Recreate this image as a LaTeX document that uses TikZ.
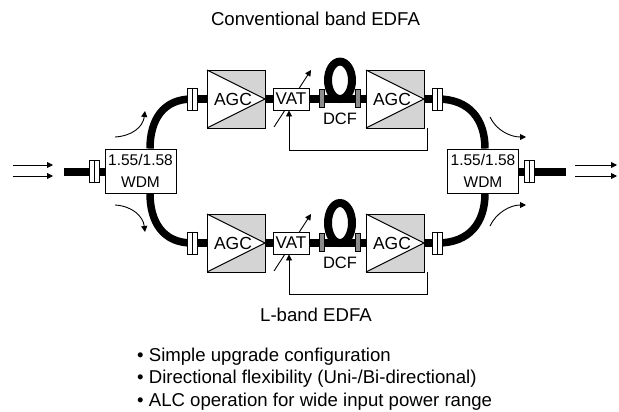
\documentclass[tikz,border=0pt]{standalone}
\usepackage{fontspec}
\setmainfont{Liberation Sans}
\usetikzlibrary{arrows.meta,backgrounds}
\tikzset{
 x=1pt,y=-1pt,
 fiber/.style={line width=7.5pt,black},
 box/.style={draw=black,line width=0.9pt,fill=white,inner sep=0pt,minimum width=#1},
 wdm/.style={box=71pt,minimum height=44pt,align=center,font=\fontsize{15.5}{22}\selectfont},
 vat/.style={box=36pt,minimum height=22pt,font=\fontsize{17}{17}\selectfont},
 conn/.style={draw=black,line width=0.8pt,fill=white,inner sep=0pt,minimum width=10pt,minimum height=22pt},
 dconn/.style={draw=black,line width=0.8pt,fill=black!45,inner sep=0pt,minimum width=5pt,minimum height=18pt},
 amp/.style={fill=black!17,inner sep=0pt,outer sep=0pt,minimum width=58pt,minimum height=58pt},
 thinln/.style={line width=0.9pt,draw=black},
 arr/.style={thinln,-{Triangle[length=6pt,width=6pt]}},
 txt/.style={inner sep=0pt,font=\fontsize{18.6}{20}\selectfont},
 lbl/.style={inner sep=0pt,font=\fontsize{17.5}{17}\selectfont},
 dcflbl/.style={inner sep=0pt,font=\fontsize{16.5}{17}\selectfont},
}
\newcommand{\ampbody}[2]{%
 \node[amp] (#1) at (#2) {};
 \path[fill=white] (#1.north west) -- (#1.east) -- (#1.south west) -- cycle;
 \path[thinln] (#1.north west) -- (#1.east) -- (#1.south west);
 \path[thinln] (#1.north west) rectangle (#1.south east);
 \node[lbl] (#1t) at ([xshift=-3pt]#1.center) {AGC};
}
\newcommand{\connbody}[2]{%
 \node[conn] (#1) at (#2) {};
 \draw[line width=0.8pt] (#1.north) -- (#1.south);
}
\newcommand{\dconnbody}[2]{%
 \node[dconn] (#1) at (#2) {};
}
\begin{document}
\begin{tikzpicture}
\useasboundingbox (0,0) rectangle (619,412);
\coordinate (inend) at (64,172);
\coordinate (outend) at (566,172);
\node[wdm] (wl) at (140.5,171) {1.55/1.58\\WDM};
\node[wdm] (wr) at (483,171) {1.55/1.58\\WDM};
\connbody{cin}{94.5,171}
\connbody{cout}{529.5,171}
\foreach \n/\y/\ry in {u/99/18.7,l/243/20}{
  \begin{scope}[on background layer]
    \draw[line width=8pt] (340,\y-\ry) ellipse [x radius=12, y radius=\ry];
  \end{scope}
  \ampbody{a\n}{236,\y}
  \ampbody{b\n}{395,\y}
  \node[vat] (v\n) at (291,\y) {VAT};
  \connbody{c\n}{192,\y}
  \connbody{d\n}{437.5,\y}
  \dconnbody{e\n}{321.5,\y-1}
  \dconnbody{f\n}{358,\y-1}
  \node[dcflbl] (dcf\n) at (340,\y+19.5) {DCF};
  \begin{scope}[on background layer]
    \draw[fiber] (c\n.center) -- (a\n.west);
    \draw[fiber] (a\n.center) -- (v\n.center);
    \draw[fiber] (v\n.center) -- (b\n.center);
    \draw[fiber] (b\n.center) -- (d\n.center);
  \end{scope}
}
\begin{scope}[on background layer]
  \draw[fiber] (inend) -- (wl.center |- inend);
  \draw[fiber] (wr.center |- outend) -- (outend);
  \draw[line width=7.5pt] (wl.north -| 150,0) .. controls (150,120) and (163,99) .. (cu.center);
  \draw[line width=7.5pt] (wl.south -| 150,0) .. controls (150,222) and (163,243) .. (cl.center);
  \draw[line width=7.5pt] (wr.north -| 485,0) .. controls (485,120) and (470,99) .. (du.center);
  \draw[line width=7.5pt] (wr.south -| 485,0) .. controls (485,222) and (470,243) .. (dl.center);
  \coordinate (ual) at (274,127); \coordinate (uah) at (311,70);
  \coordinate (lal) at (274,271); \coordinate (lah) at (311,214);
  \draw[arr] (ual) -- (uah);
  \draw[arr] (lal) -- (lah);
\end{scope}
\coordinate (fu) at (289,150); \coordinate (fl) at (289,294);
\draw[arr] (bu.south -| 427,0) -- (427,150) -- (fu) -- (fu |- vu.south);
\draw[arr] (bl.south -| 427,0) -- (427,294) -- (fl) -- (fl |- vl.south);
\coordinate (ia1) at (13,165); \coordinate (ib1) at (53,165);
\coordinate (ia2) at (13,176); \coordinate (ib2) at (53,176);
\coordinate (oa1) at (575,165); \coordinate (ob1) at (617,165);
\coordinate (oa2) at (575,176); \coordinate (ob2) at (617,176);
\draw[arr] (ia1) -- (ib1);
\draw[arr] (ia2) -- (ib2);
\draw[arr] (oa1) -- (ob1);
\draw[arr] (oa2) -- (ob2);
\coordinate (k1a) at (115,137); \coordinate (k1b) at (145,111);
\coordinate (k2a) at (115,205); \coordinate (k2b) at (145,232);
\coordinate (k3a) at (490,117); \coordinate (k3b) at (526,137);
\coordinate (k4a) at (490,226); \coordinate (k4b) at (526,205);
\draw[arr] (k1a) .. controls (132,136) and (143,127) .. (k1b);
\draw[arr] (k2a) .. controls (132,206) and (143,216) .. (k2b);
\draw[arr] (k3a) .. controls (496,130) and (510,137) .. (k3b);
\draw[arr] (k4a) .. controls (496,213) and (510,205) .. (k4b);
\node[txt] (title) at (315.5,19) {Conventional band EDFA};
\node[txt] (lband) at (316,315) {L-band EDFA};
\node[txt,anchor=west] (b1) at (137,357) {• Simple upgrade configuration};
\node[txt,anchor=west] (b2) at (137,379) {• Directional flexibility (Uni-/Bi-directional)};
\node[txt,anchor=west] (b3) at (137,402) {• ALC operation for wide input power range};
\end{tikzpicture}
\end{document}
